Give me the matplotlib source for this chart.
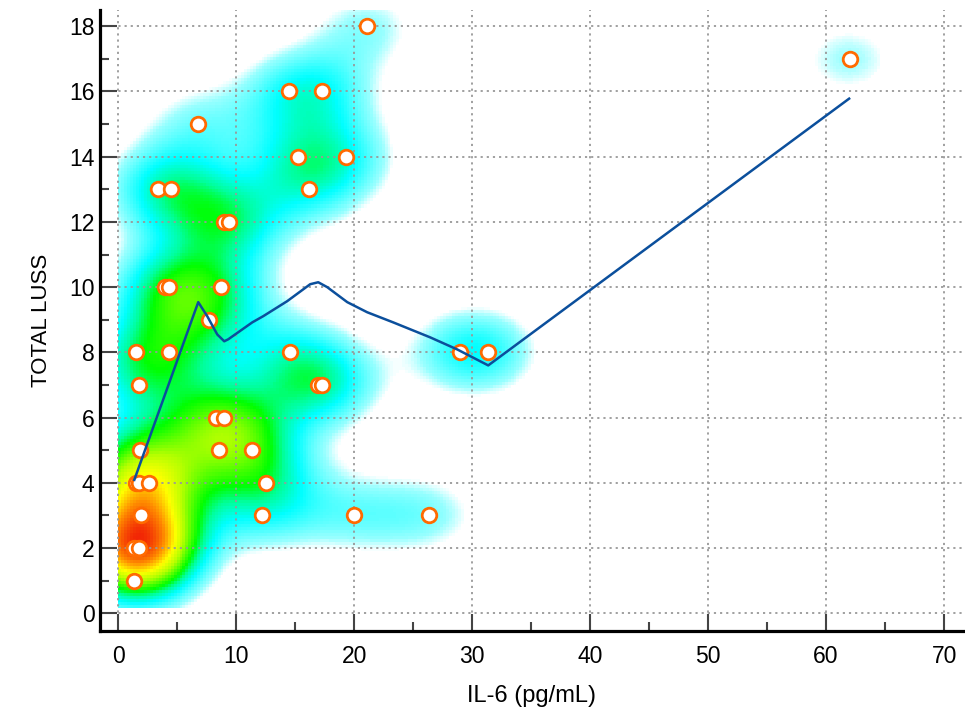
import numpy as np
import matplotlib
matplotlib.use('Agg')
import matplotlib.pyplot as plt
from matplotlib.colors import LinearSegmentedColormap
from matplotlib.ticker import MultipleLocator

# IL-6 (pg/mL) and TOTAL LUSS
il6 = [21.08, 62.0, 14.5, 17.26, 6.75, 15.2, 19.3, 16.2, 3.36, 4.49,
       8.98, 9.41, 3.93, 4.32, 8.73, 7.65, 1.53, 4.32, 14.58, 28.98,
       31.38, 1.72, 16.9, 17.26, 8.31, 8.98, 1.81, 8.56, 11.33, 1.53,
       1.78, 2.6, 12.54, 1.92, 12.18, 19.94, 26.36, 1.3, 1.78, 1.33]
luss = [18, 17, 16, 16, 15, 14, 14, 13, 13, 13,
        12, 12, 10, 10, 10, 9, 8, 8, 8, 8,
        8, 7, 7, 7, 6, 6, 5, 5, 5, 4,
        4, 4, 4, 3, 3, 3, 3, 2, 2, 1]
# overlapping (hidden) cases, implied by the red density peak near LUSS 2
hidden_il6 = [1.3, 1.78, 1.78]
hidden_luss = [2, 2, 2]

# smoothed (LOESS) curve
loess_x = [1.36, 6.78, 7.54, 8.39, 8.98, 9.32, 11.36, 12.29, 14.32, 16.27,
           16.95, 17.71, 19.41, 21.1, 23.3, 26.44, 28.73, 31.36, 61.95]
loess_y = [4.09, 9.54, 9.11, 8.55, 8.34, 8.40, 8.92, 9.11, 9.57, 10.09,
           10.15, 10.0, 9.54, 9.23, 8.92, 8.46, 8.09, 7.6, 15.78]

x_ticks = [0, 10, 20, 30, 40, 50, 60, 70]
y_ticks = [0, 2, 4, 6, 8, 10, 12, 14, 16, 18]


def density_grid(x, y, sx=3.6, sy=1.0):
    gx = np.linspace(0, 72, 290)
    gy = np.linspace(0.15, 18.6, 200)
    X, Y = np.meshgrid(gx, gy)
    d = np.zeros_like(X)
    for xi, yi in zip(x, y):
        d += np.exp(-0.5 * (((X - xi) / sx) ** 2 + ((Y - yi) / sy) ** 2))
    return d, (gx[0], gx[-1], gy[0], gy[-1])


def main():
    plt.rcParams['font.family'] = ['Liberation Sans', 'DejaVu Sans']
    fig = plt.figure(figsize=(9.65, 7.1), dpi=100)
    ax = fig.add_axes([0.1036, 0.111, 0.8943, 0.875])

    dens, ext = density_grid(il6 + hidden_il6, luss + hidden_luss)
    dmax = dens.max()
    lo = 0.72
    # colour stops in "number of overlapping kernels" units
    stops = [(lo, (1, 1, 1)),
             (1.0, (0.6, 1, 1)),
             (1.9, (0, 1, 1)),
             (2.45, (0, 1, 0.6)),
             (2.95, (0, 1, 0)),
             (0.6 * dmax, (0.7, 1, 0)),
             (0.72 * dmax, (1, 1, 0)),
             (0.85 * dmax, (1, 0.55, 0)),
             (dmax, (0.95, 0.15, 0.02))]
    cmap = LinearSegmentedColormap.from_list(
        'heat', [((v - lo) / (dmax - lo), c) for v, c in stops])
    dens = np.ma.masked_less(dens, lo)
    ax.imshow(dens, extent=ext, origin='lower', cmap=cmap, vmin=lo, vmax=dmax,
              aspect='auto', interpolation='nearest', zorder=0)

    ax.plot(loess_x, loess_y, color='#0b4f9c', lw=1.8, zorder=4)
    ax.scatter(il6, luss, s=110, facecolor='white', edgecolor='#ff6a00',
               linewidth=2.0, zorder=3)

    ax.set_xlim(-1.55, 71.6)
    ax.set_ylim(-0.55, 18.5)
    ax.set_xticks(x_ticks)
    ax.set_yticks(y_ticks)
    ax.xaxis.set_minor_locator(MultipleLocator(5))
    ax.yaxis.set_minor_locator(MultipleLocator(1))
    ax.grid(True, which='major', color='#999999', linestyle=(0, (1.2, 2.2)), lw=1.3)

    for side in ['top', 'right']:
        ax.spines[side].set_visible(False)
    for side in ['left', 'bottom']:
        ax.spines[side].set_linewidth(2.3)
    ax.tick_params(which='major', direction='in', length=12, width=1.5,
                   color='#444444', labelsize=16.5, pad=10)
    ax.tick_params(which='minor', direction='in', length=6.5, width=1.5,
                   color='#444444')
    ax.tick_params(axis='y', which='major', pad=4)

    ax.set_xlabel('IL-6 (pg/mL)', fontsize=17, labelpad=12)
    ax.set_ylabel('TOTAL LUSS', fontsize=16, labelpad=12)

    fig.savefig('out.png', dpi=100)
    plt.close(fig)


if __name__ == "__main__":
    main()
